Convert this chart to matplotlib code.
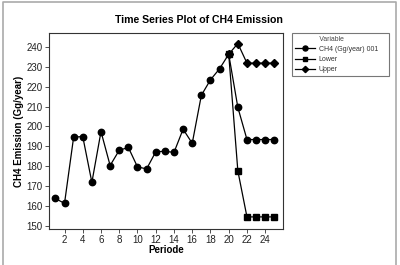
import matplotlib
matplotlib.use("Agg")
import matplotlib.pyplot as plt
from matplotlib.lines import Line2D

plt.rcParams["font.family"] = ["Liberation Sans", "DejaVu Sans"]

# data
periode = list(range(1, 26))
ch4 = [163.7, 161.2, 194.6, 194.9, 171.8, 197.4, 180.3, 188.0, 189.4, 179.6,
       178.6, 187.2, 187.5, 186.9, 198.6, 191.5, 215.7, 223.5, 229.1, 236.4,
       209.6, 193.4, 193.4, 193.4, 193.4]
bound_periode = [20, 21, 22, 23, 24, 25]
lower = [236.4, 177.6, 154.4, 154.4, 154.4, 154.4]
upper = [236.4, 241.8, 231.9, 231.9, 231.9, 231.9]
xticks = [2, 4, 6, 8, 10, 12, 14, 16, 18, 20, 22, 24]
yticks = [150, 160, 170, 180, 190, 200, 210, 220, 230, 240]

fig = plt.figure(figsize=(4.0, 2.65), dpi=100)
ax = fig.add_axes([49 / 400, 1 - 229 / 265, 234 / 400, 196 / 265])

lw = 0.9
ax.plot(bound_periode, lower, color="black", lw=lw, marker="s", ms=4.0, zorder=2)
ax.plot(bound_periode, upper, color="black", lw=lw, marker="D", ms=4.0, zorder=2)
ax.plot(periode, ch4, color="black", lw=lw, marker="o", ms=4.6, zorder=3)

ax.set_xlim(0.3, 25.95)
ax.set_ylim(148.3, 247.1)
ax.set_xticks(xticks)
ax.set_yticks(yticks)
ax.tick_params(labelsize=7.0, length=3, width=0.6, pad=1.5,
               colors="#333333", labelcolor="#222222")
for s in ax.spines.values():
    s.set_linewidth(0.8)
    s.set_color("#333333")

ax.set_xlabel("Periode", fontsize=7.0, fontweight="bold")
ax.set_ylabel("CH4 Emission (Gg/year)", fontsize=7.0, fontweight="bold")
ax.xaxis.set_label_coords(0.5, -0.08)
ax.yaxis.set_label_coords(-0.105, 0.5)
fig.text(199 / 400, 1 - 20 / 265, "Time Series Plot of CH4 Emission",
         ha="center", va="center", fontsize=7.6, fontweight="bold")

# legend box
handles = [Line2D([], [], color="black", lw=lw, marker="o", ms=3.6),
           Line2D([], [], color="black", lw=lw, marker="s", ms=3.2),
           Line2D([], [], color="black", lw=lw, marker="D", ms=3.2)]
leg = fig.legend(handles, ["CH4 (Gg/year) 001", "Lower", "Upper"],
                 title=" " * 13 + "Variable", loc="upper left",
                 alignment="left", mode="expand",
                 bbox_to_anchor=(292 / 400, 1 - 75 / 265, 97 / 400, 42 / 265),
                 fontsize=5.0, title_fontsize=4.9, fancybox=False,
                 borderpad=0.4, handlelength=2.9, handletextpad=0.55,
                 labelspacing=0.45, borderaxespad=0)
leg.get_frame().set_edgecolor("#555555")
leg.get_frame().set_linewidth(0.8)
for t in leg.get_texts():
    t.set_color("#333333")
leg.get_title().set_color("#444444")

# outer grey border (top, left, right)
fig.add_artist(Line2D([2.5 / 400, 2.5 / 400, 396 / 400, 396 / 400],
                      [0, 1 - 2 / 265, 1 - 2 / 265, 0],
                      transform=fig.transFigure, color="#aaaaaa", lw=1.2))

fig.savefig("out.png", dpi=100)
